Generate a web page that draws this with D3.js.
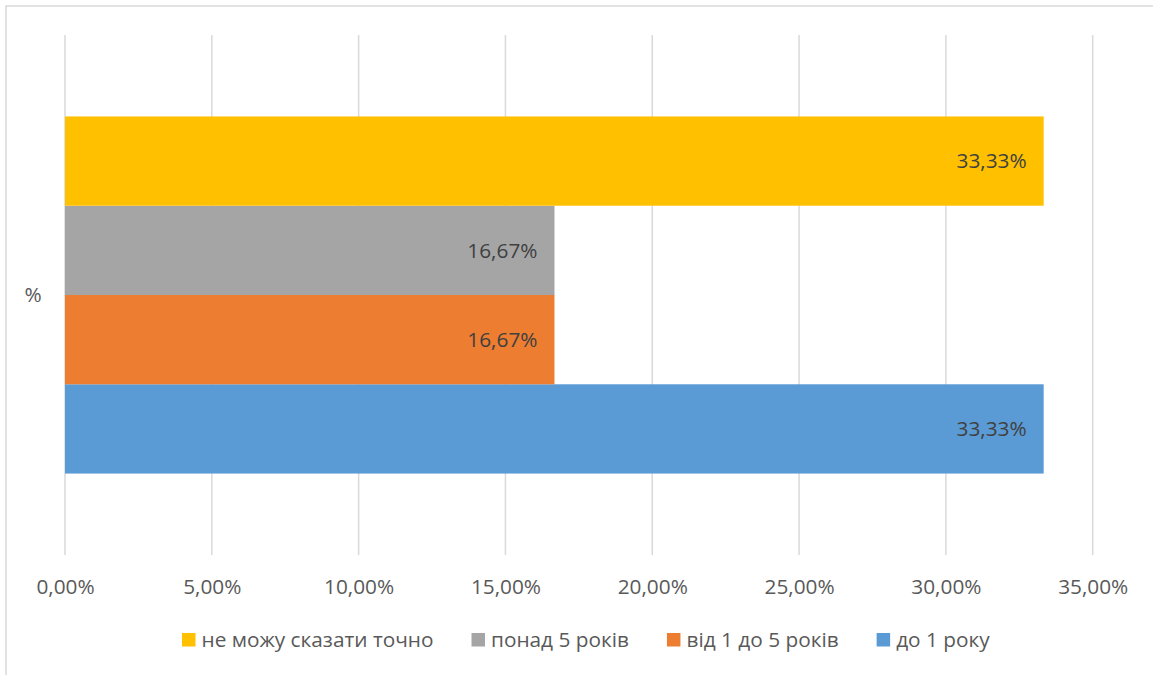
<!DOCTYPE html>
<html><head><meta charset="utf-8">
<script src="https://cdn.jsdelivr.net/npm/d3@7"></script>
<style>body{margin:0;background:#fff}svg{display:block}text{font-family:"Open Sans",sans-serif}</style>
</head><body><svg id="c" width="1153" height="675"></svg>
<script>
const categories = ["%"];
const seriesNames = ["до 1 року", "від 1 до 5 років", "понад 5 років", "не можу сказати точно"];
const seriesValues = [33.33, 16.67, 16.67, 33.33];
const seriesColors = ["#5B9BD5", "#ED7D31", "#A5A5A5", "#FFC000"];
const xTicks = [0, 5, 10, 15, 20, 25, 30, 35];
const legendOrder = ["не можу сказати точно", "понад 5 років", "від 1 до 5 років", "до 1 року"];

const FS = "20.8px";
const svg = d3.select("#c");
svg.append("rect").attr("x", 6).attr("y", 6).attr("width", 1160).attr("height", 700)
  .attr("fill", "#fff").attr("stroke", "#D9D9D9").attr("stroke-width", 1.5);

const x = d3.scaleLinear().domain([0, 35]).range([65, 1092.7]);
const yCat = d3.scaleBand().domain(categories).range([35, 555]).paddingInner(0).paddingOuter(0.228);
const ySer = d3.scaleBand().domain(seriesNames.slice().reverse()).range([0, yCat.bandwidth()]);

const fmt = v => v.toFixed(2).replace(".", ",") + "%";

svg.append("g").selectAll("line").data(xTicks).join("line")
  .attr("x1", d => x(d)).attr("x2", d => x(d)).attr("y1", 35).attr("y2", 555)
  .attr("stroke", "#D9D9D9").attr("stroke-width", 1.5);

const ax = svg.append("g").attr("transform", "translate(0,555)")
  .call(d3.axisBottom(x).tickValues(xTicks).tickFormat(fmt).tickSize(0).tickPadding(0));
ax.select(".domain").remove();
ax.selectAll("text").attr("y", 39).attr("dy", 0).attr("fill", "#595959")
  .style("font-size", FS).style("font-family", '"Open Sans",sans-serif');

const g = svg.append("g");
categories.forEach(cat => {
  seriesNames.forEach((s, i) => {
    const v = seriesValues[i];
    const y0 = yCat(cat) + ySer(s);
    g.append("rect").attr("x", x(0)).attr("y", y0).attr("width", x(v) - x(0))
      .attr("height", ySer.bandwidth()).attr("fill", seriesColors[i]);
    g.append("text").attr("x", x(v) - 17).attr("y", y0 + ySer.bandwidth() / 2)
      .attr("dy", "0.35em").attr("text-anchor", "end").attr("fill", "#404040")
      .style("font-size", FS).text(fmt(v));
  });
  svg.append("text").attr("x", 33).attr("y", yCat(cat) + yCat.bandwidth() / 2).attr("dy", "0.35em")
    .attr("text-anchor", "middle").attr("fill", "#595959").style("font-size", FS).text(cat);
});

const lg = svg.append("g");
let cx = 182;
legendOrder.forEach(name => {
  const i = seriesNames.indexOf(name);
  lg.append("rect").attr("x", cx).attr("y", 633).attr("width", 13.5).attr("height", 13.5).attr("fill", seriesColors[i]);
  const t = lg.append("text").attr("x", cx + 19.5).attr("y", 640).attr("dy", "0.35em").attr("fill", "#595959")
    .style("font-size", FS).text(name);
  cx += 19.5 + t.node().getComputedTextLength() + 38;
});
</script></body></html>
